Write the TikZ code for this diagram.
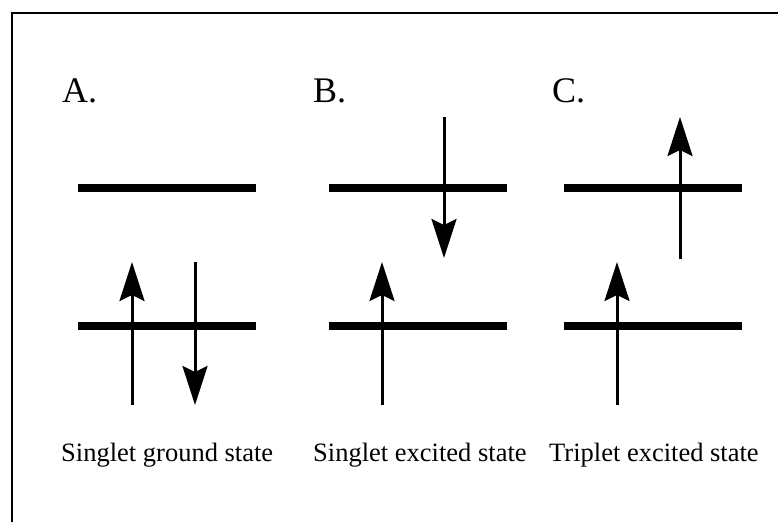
\documentclass[tikz,border=0pt]{standalone}
\usepackage{fontspec}
\setmainfont{Liberation Serif}
\usetikzlibrary{arrows.meta}

\begin{document}
\begin{tikzpicture}[x=1pt, y=-1pt,
    level/.style={line width=8pt},
    spin/.style={-{Stealth[length=39pt, width=25pt, inset=6pt]}, line width=3pt},
    frame/.style={line width=1.6pt},
    letter/.style={anchor=base west, inner sep=0pt, font=\fontsize{36}{40}\selectfont},
    caption/.style={anchor=base west, inner sep=0pt, font=\fontsize{26.5}{30}\selectfont}
  ]
    \useasboundingbox (0,0) rectangle (778,522);

    % frame (only top and left edges show)
    \coordinate (fl) at (12,522);
    \coordinate (fc) at (12,13);
    \coordinate (fr) at (778,13);
    \draw[frame] (fl) -- (fc) -- (fr);

    % panel letters
    \node[letter] (la) at (62,102)  {A.};
    \node[letter] (lb) at (313,102) {B.};
    \node[letter] (lc) at (552,102) {C.};

    % energy levels
    \coordinate (a1w) at (78,188);  \coordinate (a1e) at (256,188);
    \coordinate (a0w) at (78,326);  \coordinate (a0e) at (256,326);
    \coordinate (b1w) at (329,188); \coordinate (b1e) at (507,188);
    \coordinate (b0w) at (329,326); \coordinate (b0e) at (507,326);
    \coordinate (c1w) at (564,188); \coordinate (c1e) at (742,188);
    \coordinate (c0w) at (564,326); \coordinate (c0e) at (742,326);
    \draw[level] (a1w) -- (a1e);
    \draw[level] (a0w) -- (a0e);
    \draw[level] (b1w) -- (b1e);
    \draw[level] (b0w) -- (b0e);
    \draw[level] (c1w) -- (c1e);
    \draw[level] (c0w) -- (c0e);

    % spins
    \coordinate (aus) at (132,405); \coordinate (aut) at (132,262);
    \coordinate (ads) at (195,262); \coordinate (adt) at (195,405);
    \coordinate (bus) at (382,405); \coordinate (but) at (382,262);
    \coordinate (bds) at (444,117); \coordinate (bdt) at (444,258);
    \coordinate (cus) at (617,405); \coordinate (cut) at (617,262);
    \coordinate (cvs) at (680,259); \coordinate (cvt) at (680,117);
    \draw[spin] (aus) -- (aut);
    \draw[spin] (ads) -- (adt);
    \draw[spin] (bus) -- (but);
    \draw[spin] (bds) -- (bdt);
    \draw[spin] (cus) -- (cut);
    \draw[spin] (cvs) -- (cvt);

    % captions
    \node[caption] (ga) at (61,461)  {Singlet ground state};
    \node[caption] (gb) at (313,461) {Singlet excited state};
    \node[caption] (gc) at (549,461) {Triplet excited state};
\end{tikzpicture}
\end{document}
